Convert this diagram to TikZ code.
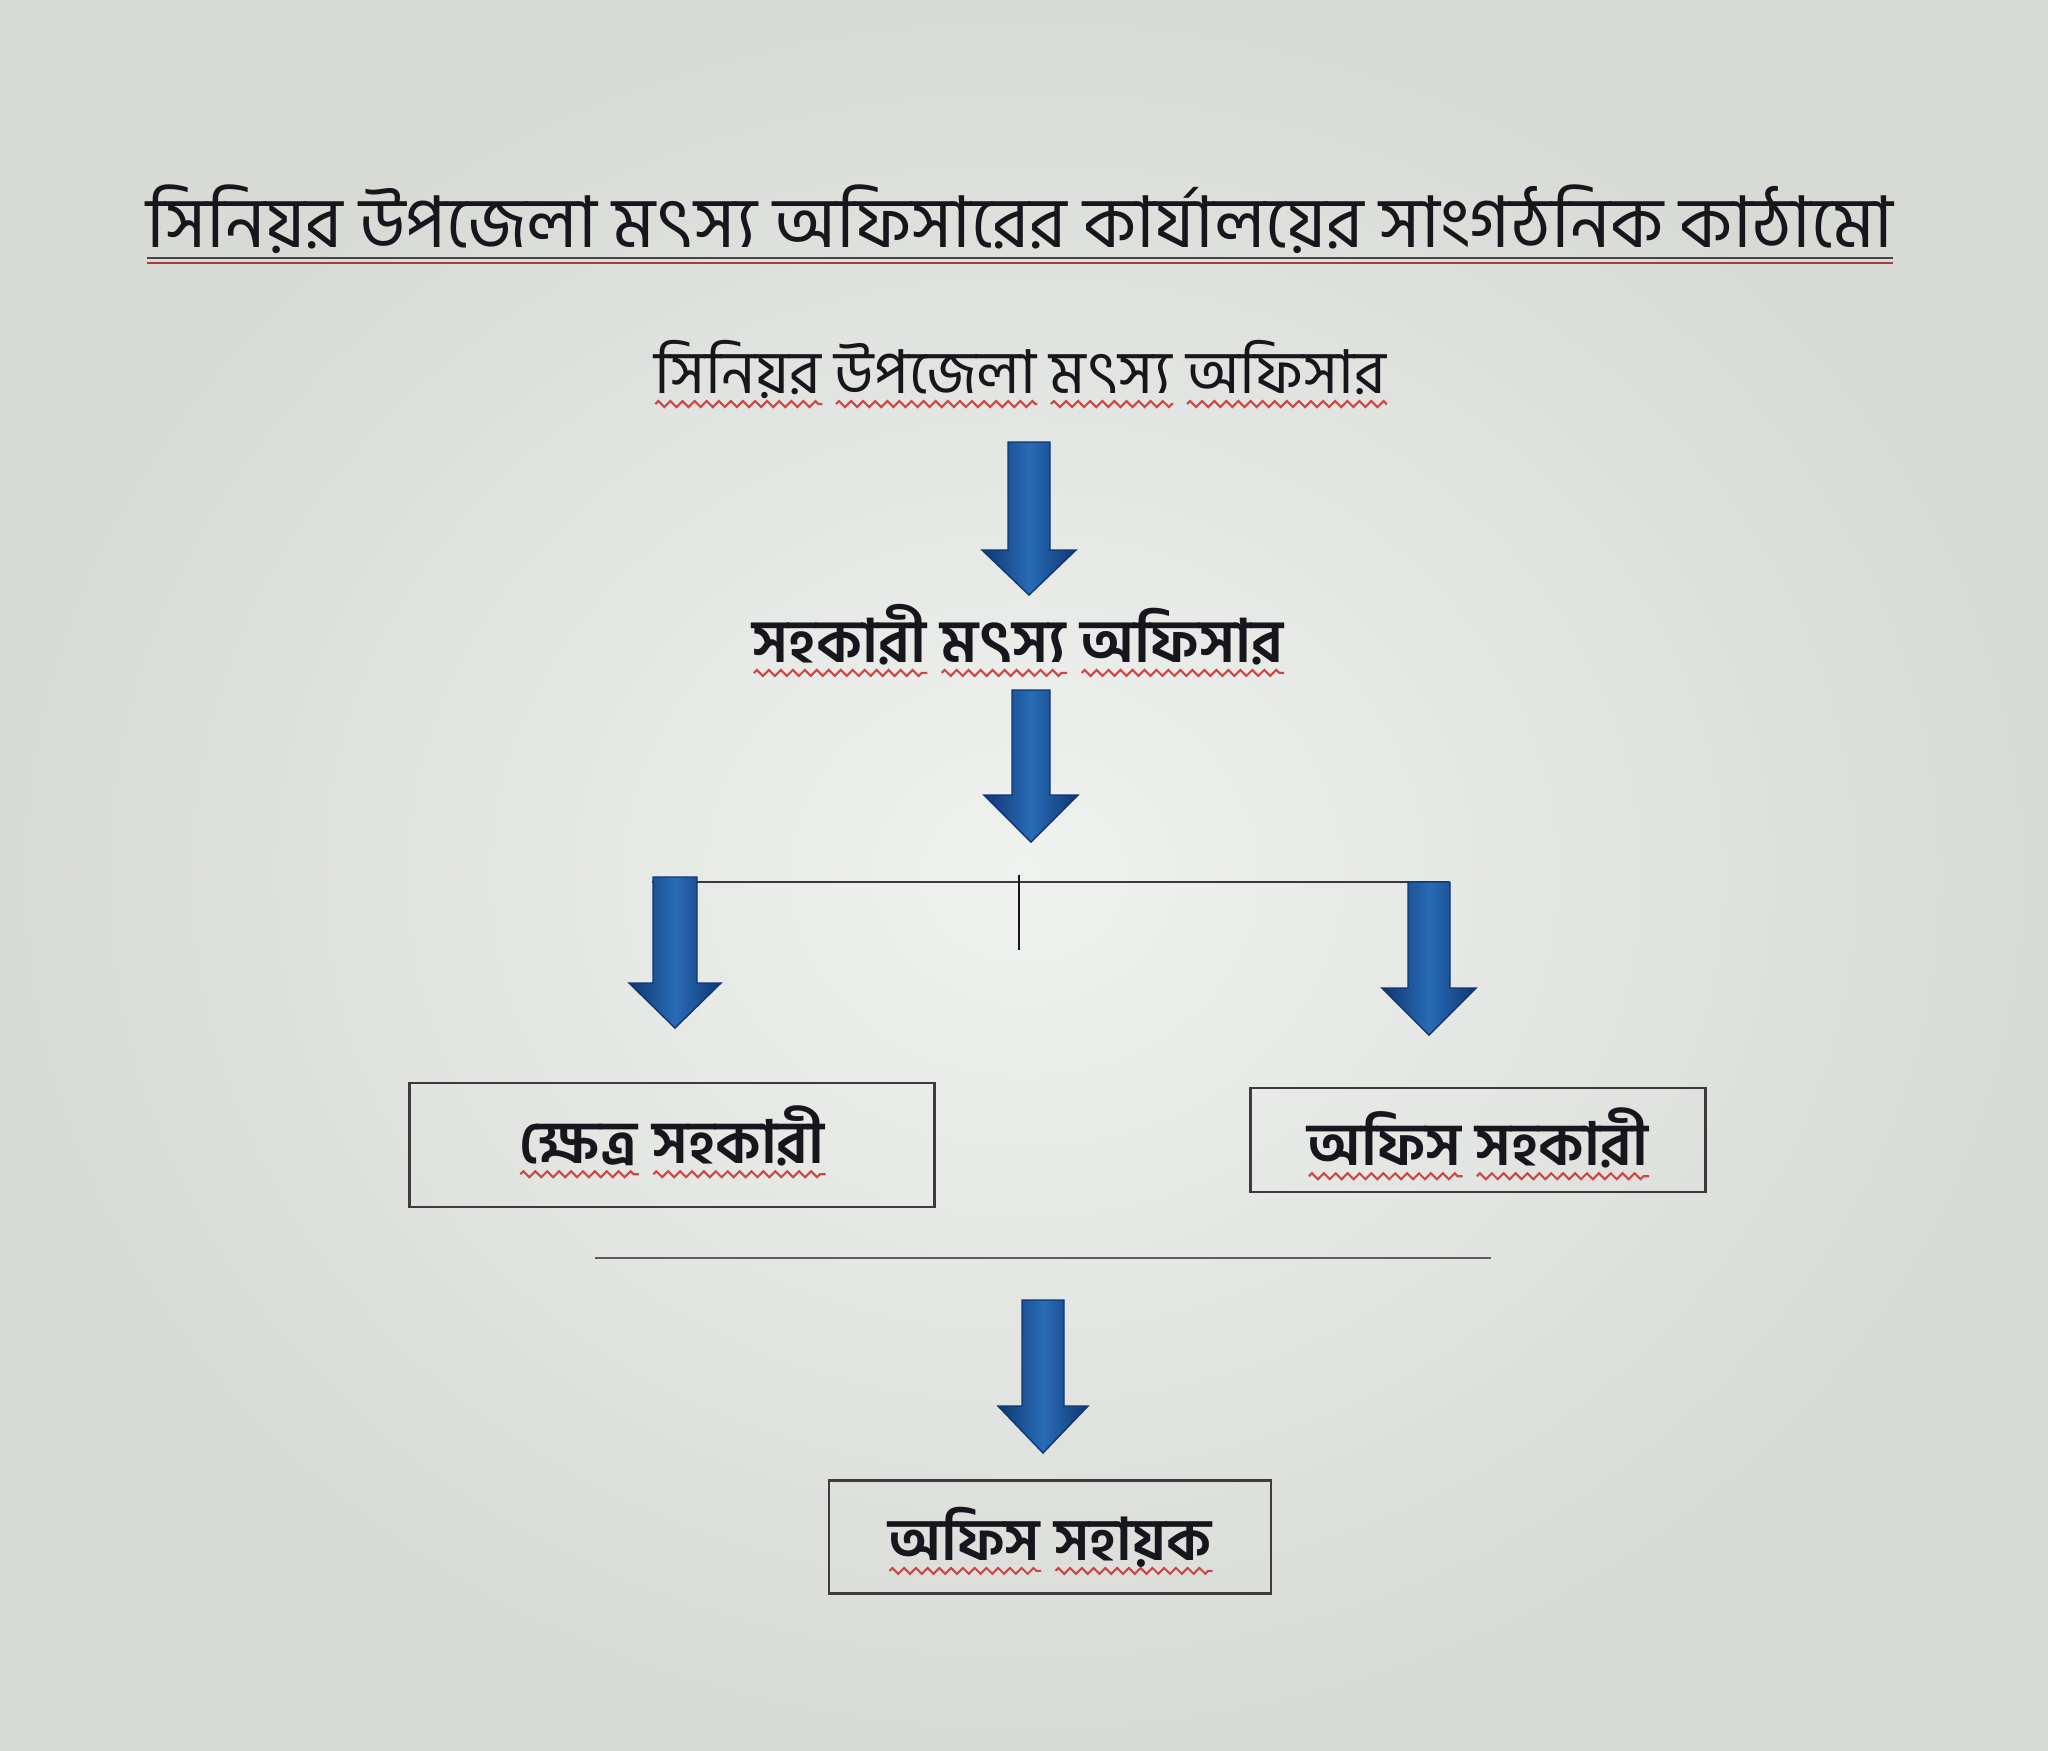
\documentclass[tikz,border=0pt]{standalone}
\usepackage{fontspec}
\usepackage{graphicx}
\usetikzlibrary{decorations.pathmorphing}
\newfontfamily\bn[Script=Bengali]{Hind Siliguri}
\definecolor{bgin}{RGB}{240,242,240}
\definecolor{bgout}{RGB}{216,218,214}
\definecolor{ink}{RGB}{22,22,28}
\definecolor{adark}{RGB}{16,54,115}
\definecolor{amid}{RGB}{40,108,182}
\definecolor{wred}{RGB}{205,70,70}
\definecolor{boxline}{RGB}{60,60,62}
\newsavebox\wvbox
\newlength\wvlen
\newcommand\wv[1]{\sbox\wvbox{#1}\setlength\wvlen{\wd\wvbox}\rlap{\raisebox{-2.5pt}[0pt][0pt]{\tikz\draw[wred,line width=0.35pt,decorate,decoration={zigzag,amplitude=0.5pt,segment length=2pt}] (0pt,0pt)--(\wvlen,0pt);}}\usebox\wvbox}
\newcommand\blockarrow[6]{%
  \shade[left color=adark,right color=adark,middle color=amid,draw=adark,line width=0.4pt]
   (#1-#5,#2) -- (#1+#5,#2) -- (#1+#5,#3) -- (#1+#6,#3) -- (#1,#4) -- (#1-#6,#3) -- (#1-#5,#3) -- cycle;}
\tikzset{
  txt/.style={inner sep=0pt,text=ink,anchor=base},
  box/.style={draw=boxline,line width=0.7pt,inner sep=0pt,text=ink},
  conn/.style={draw=ink!85,line width=0.6pt},
}
\begin{document}
\begin{tikzpicture}[x=0.01cm,y=-0.01cm]
\useasboundingbox (0,0) rectangle (2048,1750);
\shade[inner color=bgin,outer color=bgout] (0,0) rectangle (2048,1750);
% title
\node[txt] (title) at (1020,247) {\resizebox{17.46cm}{!}{\bn সিনিয়র উপজেলা মৎস্য অফিসারের কার্যালয়ের সাংগঠনিক কাঠামো}};
\draw[ink!80,line width=0.8pt] (147,258) -- (1893,258);
\draw[wred!85!black,line width=0.45pt] (147,263) -- (1893,263);
% level 1
\node[txt] (suo) at (1020,393) {\resizebox{7.31cm}{!}{\bn\wv{সিনিয়র} \wv{উপজেলা} \wv{মৎস্য} \wv{অফিসার}}};
\blockarrow{1029}{442}{550}{595}{21}{47}
% level 2
\node[txt] (aso) at (1018,662) {\resizebox{5.30cm}{!}{\bn\bfseries\wv{সহকারী} \wv{মৎস্য} \wv{অফিসার}}};
\blockarrow{1031}{690}{795}{842}{19}{47}
% branch
\coordinate (bl) at (652,882);
\coordinate (br) at (1449,882);
\draw[conn] (bl) -- (br);
\draw[ink,line width=0.7pt] (1019,875) -- (1019,950);
\blockarrow{675}{877}{983}{1028}{22}{46}
\blockarrow{1429}{882}{988}{1035}{21}{47}
% boxes
\node[box,minimum width=5.25cm,minimum height=1.24cm] (fa) at (672,1145) {\raisebox{6pt}{\resizebox{3.05cm}{!}{\bn\bfseries\wv{ক্ষেত্র} \wv{সহকারী}}}};
\node[box,minimum width=4.55cm,minimum height=1.04cm] (oa) at (1478,1140) {\raisebox{2pt}{\resizebox{3.40cm}{!}{\bn\bfseries\wv{অফিস} \wv{সহকারী}}}};
\draw[ink!70,line width=0.6pt] (595,1258) -- (1491,1258);
\blockarrow{1043}{1300}{1406}{1453}{21}{45}
\node[box,minimum width=4.42cm,minimum height=1.13cm] (os) at (1050,1537) {\raisebox{2pt}{\resizebox{3.23cm}{!}{\bn\bfseries\wv{অফিস} \wv{সহায়ক}}}};
\end{tikzpicture}
\end{document}
